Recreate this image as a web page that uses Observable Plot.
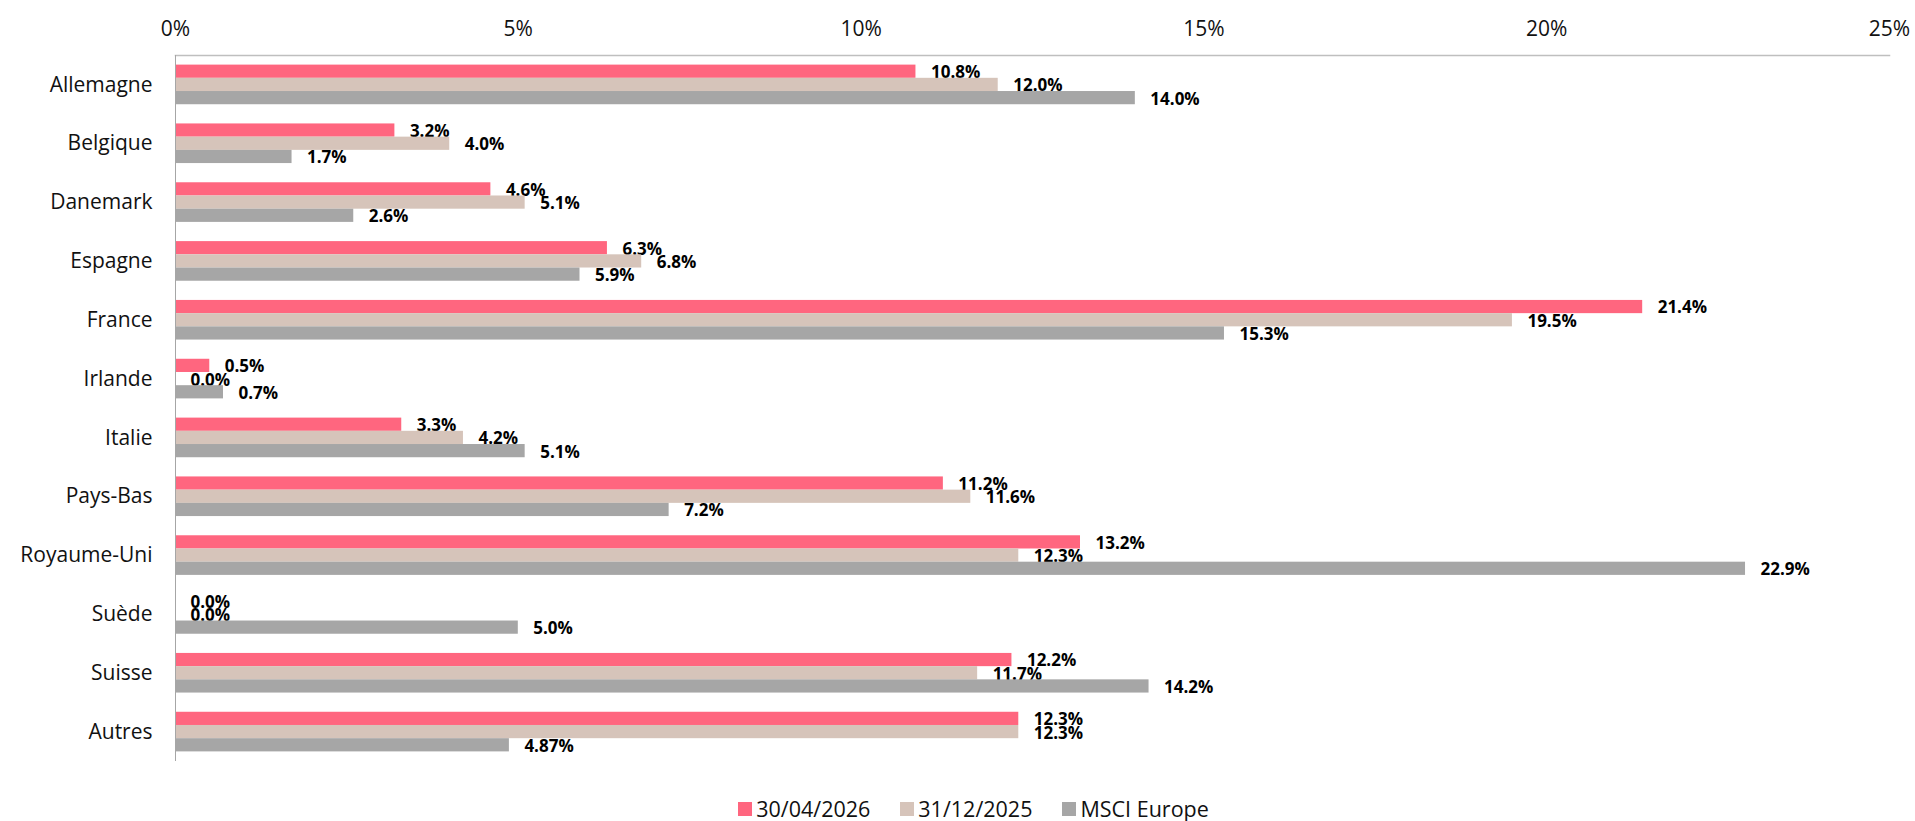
<!DOCTYPE html>
<html>
<head>
<meta charset="utf-8">
<script src="https://cdn.jsdelivr.net/npm/d3@7"></script>
<script src="https://cdn.jsdelivr.net/npm/@observablehq/plot@0.6"></script>
<style>
  html, body { margin: 0; padding: 0; background: #fff; }
  #chart { width: 1915px; }
  .legend { display: flex; justify-content: center; align-items: center; height: 25px;
    font-family: 'Open Sans', sans-serif; font-size: 21.5px; color: #111; padding-left: 32px; }
  .legend .item { display: flex; align-items: center; margin: 0 15px; }
  .legend .sw { width: 14px; height: 14px; margin-right: 4px; }
</style>
</head>
<body>
<div id="chart"></div>
<script>
const countries = ["Allemagne","Belgique","Danemark","Espagne","France","Irlande","Italie","Pays-Bas","Royaume-Uni","Suède","Suisse","Autres"];
const seriesNames = ["30/04/2026","31/12/2025","MSCI Europe"];
const apr2026 = [10.8, 3.2, 4.6, 6.3, 21.4, 0.5, 3.3, 11.2, 13.2, 0.0, 12.2, 12.3];
const dec2025 = [12.0, 4.0, 5.1, 6.8, 19.5, 0.0, 4.2, 11.6, 12.3, 0.0, 11.7, 12.3];
const msciEurope = [14.0, 1.7, 2.6, 5.9, 15.3, 0.7, 5.1, 7.2, 22.9, 5.0, 14.2, 4.87];
const colors = ["#FF667F", "#D6C4BA", "#A6A6A6"];
const xTicks = [0, 5, 10, 15, 20, 25];

const seriesValues = [apr2026, dec2025, msciEurope];
const fmt = v => (Math.abs(v * 10 - Math.round(v * 10)) < 1e-9 ? v.toFixed(1) : String(v)) + "%";

const W = 1915, H = 796, mT = 55, mB = 35, mL = 175, mR = 26;
const step = (H - mT - mB) / countries.length;
const barH = step * 0.2245;
const inset = (step - barH) / 2;

const marks = [];
seriesValues.forEach((vals, k) => {
  const rows = countries.map((c, i) => ({country: c, series: seriesNames[k], value: vals[i]}));
  marks.push(Plot.barX(rows, {y: "country", x: "value", fill: colors[k], insetTop: inset, insetBottom: inset, dy: (k - 1) * barH}));
  marks.push(Plot.text(rows, {y: "country", x: "value", text: d => fmt(d.value), textAnchor: "start",
    dx: 15, dy: (k - 1) * barH + 1, fontWeight: "bold", fontSize: 17, fill: "#000"}));
});

const plot = Plot.plot({
  width: W, height: H, marginTop: mT, marginBottom: mB, marginLeft: mL, marginRight: mR,
  style: {fontFamily: "'Open Sans', sans-serif", color: "#111", background: "#fff"},
  x: {domain: [0, 25], round: false},
  y: {domain: countries, padding: 0, round: false},
  marks: [
    Plot.frame({anchor: "top", stroke: "#BFBFBF", strokeWidth: 1.5}),
    ...marks,
    Plot.ruleX([0], {stroke: "#A6A6A6", strokeWidth: 1}),
    Plot.axisX({anchor: "top", ticks: xTicks, tickFormat: d => d + "%", tickSize: 0, tickPadding: 20, fontSize: 21, label: null}),
    Plot.axisY({anchor: "left", tickSize: 0, tickPadding: 23, fontSize: 21, label: null})
  ]
});
document.getElementById("chart").appendChild(plot);

const legend = document.createElement("div");
legend.className = "legend";
seriesNames.forEach((name, k) => {
  const item = document.createElement("div");
  item.className = "item";
  const sw = document.createElement("span");
  sw.className = "sw";
  sw.style.background = colors[k];
  const t = document.createElement("span");
  t.textContent = name;
  item.appendChild(sw); item.appendChild(t);
  legend.appendChild(item);
});
document.getElementById("chart").appendChild(legend);
</script>
</body>
</html>
